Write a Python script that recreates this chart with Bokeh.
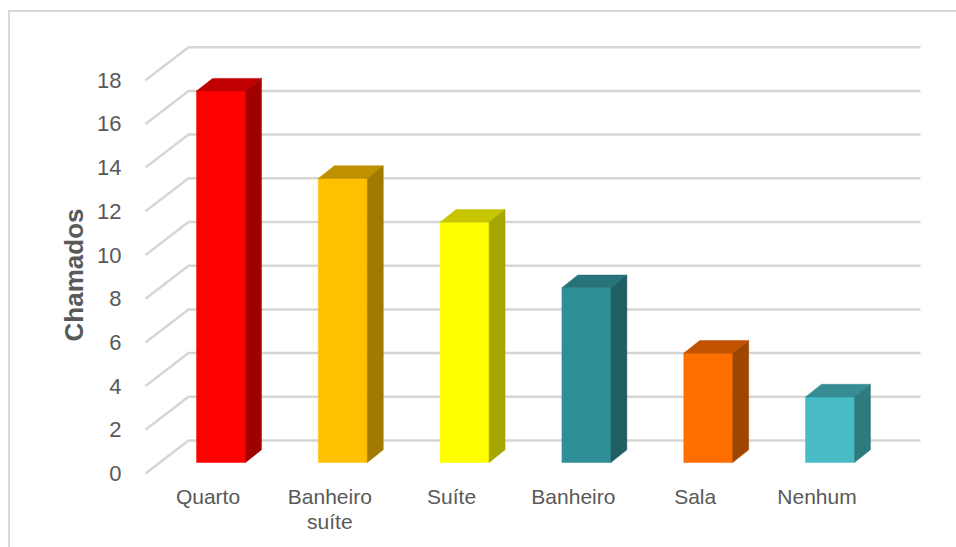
from bokeh.plotting import figure
from bokeh.models import Range1d, FixedTicker, Title, ColumnDataSource
from bokeh.embed import file_html
from bokeh.resources import INLINE

# ---- data ----
categories = ["Quarto", "Banheiro\nsuíte", "Suíte", "Banheiro", "Sala", "Nenhum"]
chamados = [17, 13, 11, 8, 5, 3]
front_colors = ["#FF0000", "#FFC000", "#FFFF00", "#2E8F97", "#FF6F00", "#47BBC6"]
top_colors = ["#C00000", "#BF9000", "#C7C400", "#26737A", "#C25200", "#358C93"]
side_colors = ["#A00000", "#A37A00", "#A6A600", "#1F5E63", "#A04500", "#2D7B7E"]
y_ticks = list(range(0, 20, 2))
axis_title = "Chamados"

# ---- 3D geometry (in data units) ----
BAR_OFF = 0.107     # bar front-face center offset from category position
BAR_W = 0.402       # bar width
BASE = 0.503        # floor level of bars relative to front plane
DX, DY = 0.131, 0.58          # bar depth offset
WALL_DX, WALL_DY = 0.353, 1.51  # back wall offset from front plane
FRONT_LEFT = -0.513
RIGHT_END = 5.85

GRID = "#D6D6D6"
TXT = "#595959"
FONT = "Liberation Sans"

p = figure(width=956, height=547,
           x_range=Range1d(-0.6363, 6.014), y_range=Range1d(-0.503, 21.19),
           output_backend="svg", toolbar_location=None,
           min_border_left=130, min_border_right=16, min_border_top=10,
           min_border_bottom=63)
p.outline_line_color = None
p.grid.visible = False
p.background_fill_color = None
p.border_fill_color = None
# chart-area frame (top and left edges), drawn behind the transparent canvas
p.styles = {"background": "linear-gradient(#D9D9D9,#D9D9D9) 8px 10px / 2px 560px no-repeat, "
                          "linear-gradient(#D9D9D9,#D9D9D9) 8px 10px / 960px 2px no-repeat, #FFFFFF"}

# ---- gridlines: diagonal floor edge + back-wall horizontal ----
g_xs, g_ys = [], []
for t in y_ticks:
    g_xs.append([FRONT_LEFT, FRONT_LEFT + WALL_DX, RIGHT_END])
    g_ys.append([t, t + WALL_DY, t + WALL_DY])
p.multi_line(xs=g_xs, ys=g_ys, line_color=GRID, line_width=2.5)

# ---- bars ----
xc = [i + BAR_OFF for i in range(len(chamados))]
bottoms = [BASE] * len(chamados)
tops = [v + BASE for v in chamados]
src = ColumnDataSource(dict(x=xc, top=tops, bottom=bottoms, color=front_colors))
p.vbar(x="x", top="top", bottom="bottom", width=BAR_W, fill_color="color",
       line_color="color", line_width=0.5, source=src)

top_xs, top_ys, side_xs, side_ys = [], [], [], []
for c, b, t in zip(xc, bottoms, tops):
    xl, xr = c - BAR_W / 2, c + BAR_W / 2
    top_xs.append([xl, xr, xr + DX, xl + DX])
    top_ys.append([t, t, t + DY, t + DY])
    side_xs.append([xr, xr, xr + DX, xr + DX])
    side_ys.append([b, t, t + DY, b + DY])
p.patches(xs=top_xs, ys=top_ys, fill_color=top_colors, line_color=top_colors, line_width=0.5)
p.patches(xs=side_xs, ys=side_ys, fill_color=side_colors, line_color=side_colors, line_width=0.5)

# ---- axes ----
ya = p.yaxis[0]
ya.ticker = FixedTicker(ticks=y_ticks)
ya.axis_line_color = None
ya.major_tick_line_color = None
ya.minor_tick_line_color = None
ya.major_label_text_font_size = "22px"
ya.major_label_text_color = TXT
ya.major_label_text_font = FONT
ya.major_label_standoff = 3

xa = p.xaxis[0]
xa.ticker = FixedTicker(ticks=list(range(len(categories))))
xa.major_label_overrides = {i: c for i, c in enumerate(categories)}
xa.axis_line_color = None
xa.major_tick_line_color = None
xa.minor_tick_line_color = None
xa.major_label_text_font_size = "21px"
xa.major_label_text_color = TXT
xa.major_label_text_font = FONT
xa.major_label_text_line_height = 1.1
xa.major_label_standoff = -6

p.add_layout(Title(text=axis_title, align="right", offset=198, standoff=12,
                   text_font_style="bold", text_font_size="26px",
                   text_color=TXT, text_font=FONT), "left")

open("out.html", "w").write(file_html(p, INLINE))
